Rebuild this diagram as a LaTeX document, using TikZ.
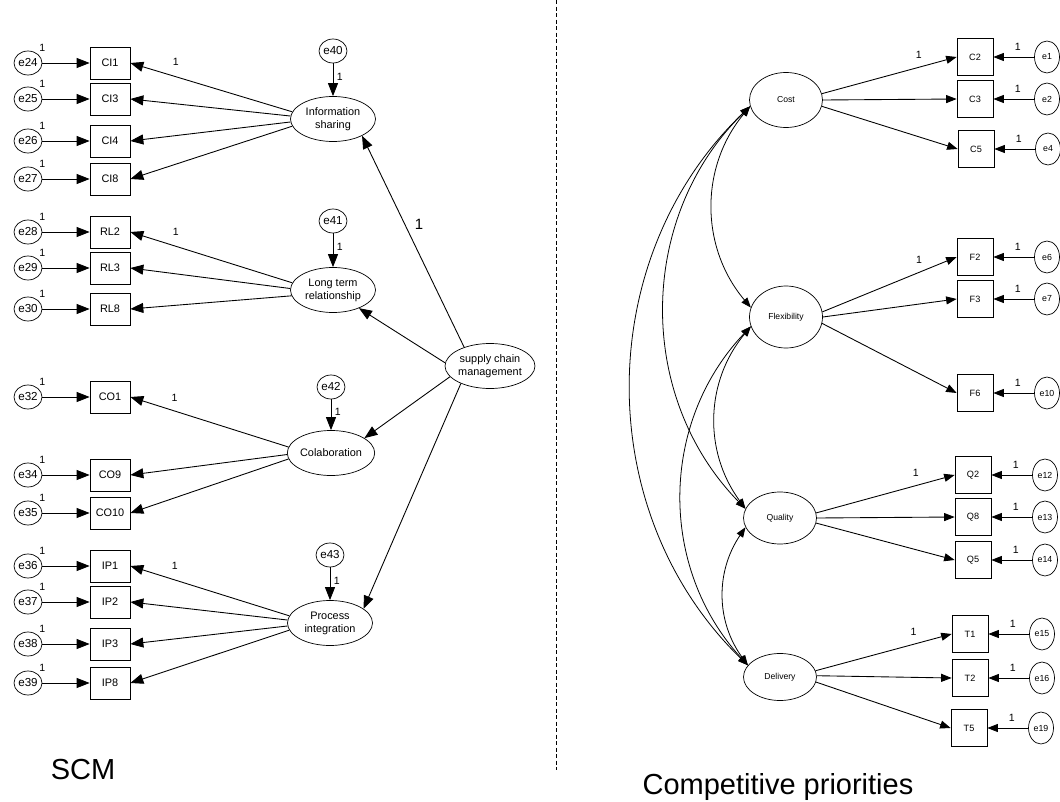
\documentclass[tikz,border=0pt]{standalone}
\usepackage{fontspec}
\setmainfont{Liberation Sans}
\usepackage{tikz}
\usetikzlibrary{arrows.meta,shapes.geometric}
\tikzset{
  lat/.style   ={draw,ellipse,align=center,inner sep=0pt,font=\fontsize{6.2}{7.4}\selectfont,minimum width=17mm,minimum height=9mm},
  latr/.style  ={draw,ellipse,inner sep=0pt,font=\fontsize{4.9}{6}\selectfont,minimum width=14.6mm},
  obs/.style   ={draw,rectangle,inner sep=0pt,font=\fontsize{6.2}{7.4}\selectfont,minimum width=8mm,minimum height=6.4mm},
  obsr/.style  ={draw,rectangle,inner sep=0pt,font=\fontsize{5.2}{6}\selectfont,minimum width=7.2mm,minimum height=7.4mm},
  err/.style   ={draw,ellipse,inner sep=0pt,font=\fontsize{6.6}{7.4}\selectfont,minimum width=5.6mm,minimum height=4.8mm},
  errr/.style  ={draw,ellipse,inner sep=0pt,font=\fontsize{5}{6}\selectfont,minimum width=5mm,minimum height=6.4mm},
  reg/.style   ={-{Triangle[length=2.6mm,width=2mm]},line width=0.5pt},
  regr/.style  ={-{Triangle[length=2.1mm,width=1.6mm]},line width=0.5pt},
  cov/.style   ={{Triangle[length=2mm,width=1.5mm]}-{Triangle[length=2mm,width=1.5mm]},line width=0.45pt},
  one/.style   ={font=\fontsize{6}{7}\selectfont,inner sep=1pt},
  divider/.style={dash pattern=on 0.8mm off 0.5mm,line width=0.5pt},
  title/.style ={font=\fontsize{16.5}{19}\selectfont},
}
\begin{document}
\begin{tikzpicture}[x=0.2mm,y=-0.2mm]
  \useasboundingbox (0,0) rectangle (1060,802);
  % SCM side
  \foreach \e/\v/\t/\y in {e24/ci1/CI1/63,e25/ci3/CI3/99,e26/ci4/CI4/141,e27/ci8/CI8/179,
      e28/rl2/RL2/232,e29/rl3/RL3/268,e30/rl8/RL8/309,e32/co1/CO1/397,e34/co9/CO9/475,e35/co10/CO10/513,
      e36/ip1/IP1/566,e37/ip2/IP2/602,e38/ip3/IP3/644,e39/ip8/IP8/683}{
    \node[err,label={[one]45:1}] (\e) at (28,\y) {\e};
    \node[obs] (\v) at (110,\y) {\t};
    \draw[reg] (\e) -- (\v);
  }
  \node[lat] (is)  at (333,119) {Information\\sharing};
  \node[lat] (lt)  at (333,290) {Long term\\relationship};
  \node[lat] (co)  at (331,453) {Colaboration};
  \node[lat] (pi)  at (330,623) {Process\\integration};
  \node[lat] (scm) at (490,366) {supply chain\\management};
  \foreach \l/\d/\x/\y in {is/e40/333/51,lt/e41/333/221,co/e42/331/387,pi/e43/330/555}{
    \node[err] (\d) at (\x,\y) {\d};
    \draw[reg] (\d) -- node[one,right=1pt,pos=.4]{1} (\l);
  }
  \foreach \v/\a in {ci1/170,ci3/176,ci4/184,ci8/190}\draw[reg] (is.\a) -- (\v.east);
  \foreach \v/\a in {rl2/170,rl3/178,rl8/188}\draw[reg] (lt.\a) -- (\v.east);
  \foreach \v/\a in {co1/172,co9/182,co10/188}\draw[reg] (co.\a) -- (\v.east);
  \foreach \v/\a in {ip1/170,ip2/176,ip3/184,ip8/190}\draw[reg] (pi.\a) -- (\v.east);
  \path (is.170) -- node[one,pos=.72,above=5pt]{1} (ci1.east);
  \path (lt.170) -- node[one,pos=.72,above=5pt]{1} (rl2.east);
  \path (co.172) -- node[one,pos=.72,above=4pt]{1} (co1.east);
  \path (pi.170) -- node[one,pos=.72,above=5pt]{1} (ip1.east);
  \draw[reg] (scm.144) -- node[pos=.58,right=2pt,font=\fontsize{8.5}{10}\selectfont]{1} (is.-30);
  \draw[reg] (scm.176) -- (lt.-35);
  \draw[reg] (scm.195) -- (co.24);
  \draw[reg] (scm.211) -- (pi.23);
  \node[title] (scmtitle) at (83,770) {SCM};
  \draw[divider] (556,0) -- (556,770);
  % competitive priorities side
  \node[latr,minimum height=11mm]   (cost)  at (786,100) {Cost};
  \node[latr,minimum height=12.4mm] (flex)  at (786,317) {Flexibility};
  \node[latr,minimum height=10.4mm] (qual)  at (780,518) {Quality};
  \node[latr,minimum height=9.4mm]  (deliv) at (780,677) {Delivery};
  \foreach \e/\v/\t/\x/\y in {e1/c2/C2/975/57,e2/c3/C3/975/99,e4/c5/C5/976/149,
      e6/f2/F2/975/257,e7/f3/F3/975/299,e10/f6/F6/975/393,
      e12/q2/Q2/973/475,e13/q8/Q8/973/517,e14/q5/Q5/973/560,
      e15/t1/T1/970/634,e16/t2/T2/970/678,e19/t5/T5/969/728}{
    \node[obsr] (\v) at (\x,\y) {\t};
    \node[errr] (\e) at (\x+72,\y) {\e};
    \draw[regr] (\e) -- node[one,pos=.4,above=2.5pt]{1} (\v);
  }
  \foreach \v/\a in {c2/10,c3/0,c5/-10}\draw[regr] (cost.\a) -- (\v.west);
  \foreach \v/\a in {f2/8,f3/0,f6/-10}\draw[regr] (flex.\a) -- (\v.west);
  \foreach \v/\a in {q2/8,q8/0,q5/-8}\draw[regr] (qual.\a) -- (\v.west);
  \foreach \v/\a in {t1/10,t2/2,t5/-8}\draw[regr] (deliv.\a) -- (\v.west);
  \path (cost.10)  -- node[one,pos=.72,above=4pt]{1} (c2.west);
  \path (flex.8)   -- node[one,pos=.72,above=4pt]{1} (f2.west);
  \path (qual.8)   -- node[one,pos=.72,above=4pt]{1} (q2.west);
  \path (deliv.10) -- node[one,pos=.72,above=4pt]{1} (t1.west);
  \draw[cov] (cost.190) to[bend right=40] (flex.165);
  \draw[cov] (cost.190) to[bend right=45] (qual.165);
  \draw[cov] (cost.190) to[bend right=46] (deliv.160);
  \draw[cov] (flex.195) to[bend right=38] (qual.165);
  \draw[cov] (flex.195) to[bend right=43] (deliv.160);
  \draw[cov] (qual.195) to[bend right=35] (deliv.160);
  \node[title] (cptitle) at (778,787) {Competitive priorities};
\end{tikzpicture}
\end{document}
